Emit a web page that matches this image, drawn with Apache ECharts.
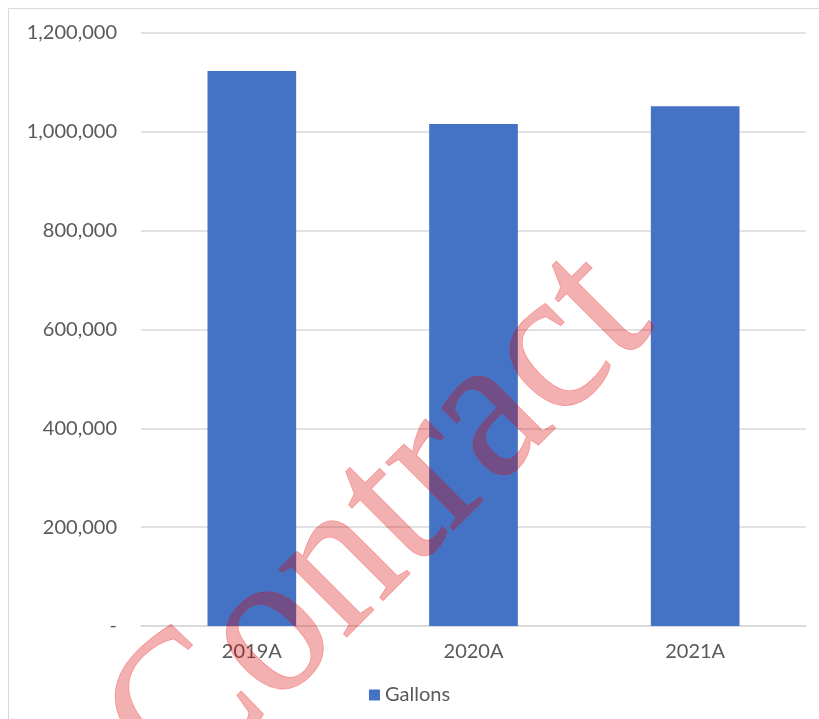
<!DOCTYPE html>
<html>
<head>
<meta charset="utf-8">
<script src="https://cdn.jsdelivr.net/npm/echarts@6/dist/echarts.min.js"></script>
<style>
html,body{margin:0;padding:0;background:#fff;}
#c{width:819px;height:719px;}
</style>
</head>
<body>
<div id="c"></div>
<script>
const categories = ['2019A', '2020A', '2021A'];
const gallons = [1123000, 1016000, 1052000];
const seriesName = 'Gallons';
const watermarkText = 'Contract';

const chart = echarts.init(document.getElementById('c'), null, {renderer: 'canvas'});
const fmt = v => v === 0 ? '-' : v.toLocaleString('en-US');
chart.setOption({
  animation: false,
  backgroundColor: '#fff',
  textStyle: {fontFamily: 'Lato'},
  grid: {left: 141, right: 13, top: 33, bottom: 93, containLabel: false},
  legend: {
    data: [seriesName], bottom: 9, left: 'center',
    icon: 'rect', itemWidth: 11, itemHeight: 11, itemGap: 5,
    textStyle: {fontFamily: 'Lato', fontSize: 20, color: '#595959'}
  },
  xAxis: {
    type: 'category', data: categories,
    axisLine: {lineStyle: {color: '#d9d9d9', width: 1.5}},
    axisTick: {show: false},
    axisLabel: {fontFamily: 'Lato', fontSize: 20, color: '#595959', margin: 16}
  },
  yAxis: {
    type: 'value', min: 0, max: 1200000, interval: 200000,
    axisLine: {show: false}, axisTick: {show: false},
    splitLine: {lineStyle: {color: '#d9d9d9', width: 1.5}},
    axisLabel: {fontFamily: 'Lato', fontSize: 20, color: '#595959', margin: 24, formatter: fmt}
  },
  series: [{
    name: seriesName, type: 'bar', data: gallons,
    barWidth: '40%',
    itemStyle: {color: '#4472c4'}
  }],
  graphic: [
    {type: 'rect', shape: {x: 8.5, y: 8.5, width: 830, height: 730}, style: {fill: 'none', stroke: '#d9d9d9', lineWidth: 1}, silent: true, z: 0},
    {
      type: 'text', x: 381, y: 525, rotation: 45 * Math.PI / 180, scaleX: 0.932, scaleY: 1, z: 100, silent: true,
      style: {
        text: watermarkText, fontFamily: 'Liberation Serif', fontSize: 209,
        fill: 'rgba(215,0,0,0.31)', stroke: 'rgba(255,0,0,0.3)', lineWidth: 0.8,
        align: 'center', verticalAlign: 'middle'
      }
    }
  ]
});
</script>
</body>
</html>
